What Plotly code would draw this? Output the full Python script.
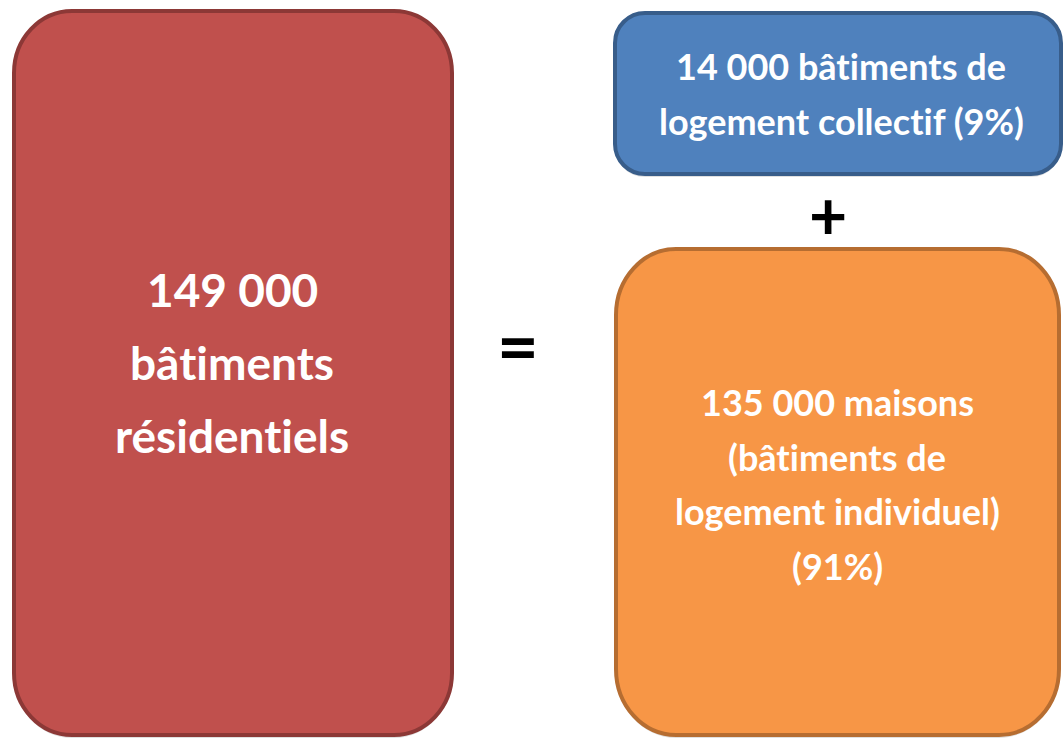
import plotly.graph_objects as go

# text content ("\u200c" keeps Lato from drawing the "ti" ligature)
total_lines = ["149 000", "bât\u200ciments", "résident\u200ciels"]
collectif_lines = ["14 000 bât\u200ciments de", "logement collect\u200cif (9%)"]
maisons_lines = ["135 000 maisons", "(bât\u200ciments de", "logement individuel)", "(91%)"]
operators = ["=", "+"]

W, H = 1063, 739
FONT = "Lato, 'Open Sans', sans-serif"


def rounded_box(x0, y0, x1, y1, rx, ry):
    k = 0.5523
    return (
        f"M {x0 + rx},{y0} L {x1 - rx},{y0} "
        f"C {x1 - rx + k * rx},{y0} {x1},{y0 + ry - k * ry} {x1},{y0 + ry} "
        f"L {x1},{y1 - ry} "
        f"C {x1},{y1 - ry + k * ry} {x1 - rx + k * rx},{y1} {x1 - rx},{y1} "
        f"L {x0 + rx},{y1} "
        f"C {x0 + rx - k * rx},{y1} {x0},{y1 - ry + k * ry} {x0},{y1 - ry} "
        f"L {x0},{y0 + ry} "
        f"C {x0},{y0 + ry - k * ry} {x0 + rx - k * rx},{y0} {x0 + rx},{y0} Z"
    )


boxes = [
    # x0, y0, x1, y1, rx, ry, fill, line
    (14, 11, 452, 735, 58, 62, "#C0504D", "#8C3836"),
    (615, 13, 1061, 174, 30, 30, "#4F81BD", "#385D8A"),
    (616, 249, 1059, 735, 60, 66, "#F79646", "#B66D31"),
]

fig = go.Figure()

# invisible trace so the axes exist
fig.add_trace(go.Scatter(x=[0, W], y=[0, H], mode="markers",
                         marker=dict(opacity=0), hoverinfo="skip", showlegend=False))

for x0, y0, x1, y1, rx, ry, fill, line in boxes:
    # slight shadow under each box
    fig.add_shape(type="path", path=rounded_box(x0, y0 + 3, x1, y1 + 3, rx, ry),
                  fillcolor="rgba(0,0,0,0.12)", line=dict(width=0), layer="below")
    fig.add_shape(type="path", path=rounded_box(x0, y0, x1, y1, rx, ry),
                  fillcolor=fill, line=dict(color=line, width=4), layer="below")


def add_lines(lines, cx, y_start, step, size):
    for i, txt in enumerate(lines):
        fig.add_annotation(x=cx, y=y_start + i * step, text=f"<b>{txt}</b>",
                           showarrow=False, xanchor="center", yanchor="middle",
                           font=dict(family=FONT, size=size, color="white"))


add_lines(total_lines, 232, 289, 73, 46)
add_lines(collectif_lines, 841, 66, 55, 36)
add_lines(maisons_lines, 837, 402, 54.5, 36)

fig.add_annotation(x=518, y=345, text=f"<b>{operators[0]}</b>", showarrow=False,
                   font=dict(family=FONT, size=72, color="black"))
fig.add_annotation(x=828, y=214, text=f"<b>{operators[1]}</b>", showarrow=False,
                   font=dict(family=FONT, size=66, color="black"))

fig.update_xaxes(range=[0, W], visible=False, fixedrange=True)
fig.update_yaxes(range=[H, 0], visible=False, fixedrange=True)
fig.update_layout(
    width=W, height=H,
    margin=dict(l=0, r=0, t=0, b=0),
    paper_bgcolor="white", plot_bgcolor="white",
    showlegend=False,
)

fig.write_html("out.html", config={"displayModeBar": False},
               post_script="document.body.style.margin='0';document.body.style.overflow='hidden';")
